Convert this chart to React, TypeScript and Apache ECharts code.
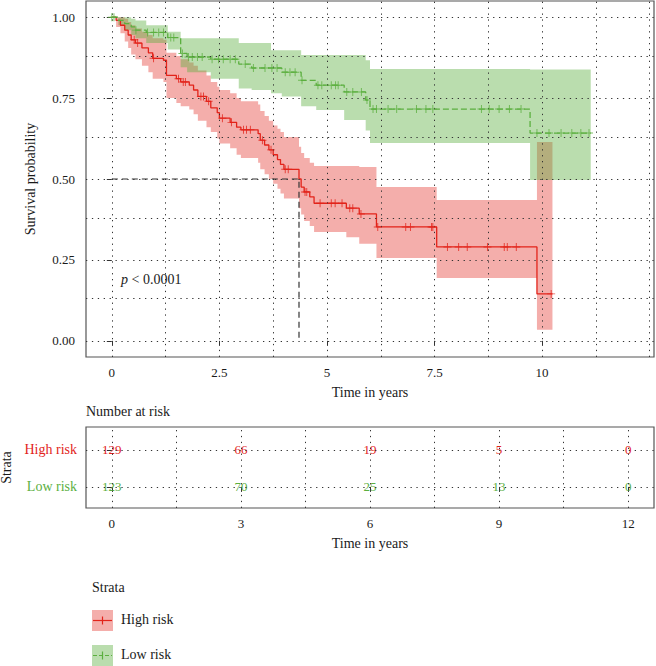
import React, { useEffect, useRef } from "react";
import * as echarts from "echarts";

// ---------- data ----------
const highT = [0, 0.1, 0.2, 0.3, 0.38, 0.45, 0.55, 0.7, 0.85, 0.95, 1.2, 1.27, 1.5, 1.6, 1.8, 1.9, 2.0, 2.2, 2.3, 2.45, 2.5, 2.75, 2.9, 3.0, 3.4, 3.45, 3.55, 3.65, 3.75, 3.85, 3.92, 4.0, 4.35, 4.4, 4.47, 4.6, 4.7, 5.45, 5.75, 6.15, 7.55, 9.88, 10.24];
const highS = [1, 0.99, 0.975, 0.96, 0.945, 0.93, 0.92, 0.905, 0.89, 0.873, 0.867, 0.82, 0.81, 0.8, 0.79, 0.775, 0.755, 0.74, 0.72, 0.705, 0.688, 0.675, 0.66, 0.652, 0.64, 0.62, 0.605, 0.59, 0.575, 0.56, 0.545, 0.53, 0.5, 0.475, 0.46, 0.445, 0.425, 0.41, 0.392, 0.352, 0.29, 0.145, 0.145];
const highUp = [1, 1, 1, 0.995, 0.985, 0.975, 0.965, 0.955, 0.945, 0.935, 0.93, 0.89, 0.88, 0.87, 0.86, 0.85, 0.835, 0.82, 0.8, 0.785, 0.775, 0.765, 0.75, 0.74, 0.73, 0.71, 0.695, 0.68, 0.665, 0.655, 0.645, 0.63, 0.6, 0.58, 0.565, 0.55, 0.54, 0.54, 0.537, 0.475, 0.435, 0.614, 0.614];
const highLo = [1, 0.97, 0.95, 0.925, 0.905, 0.885, 0.87, 0.85, 0.83, 0.81, 0.8, 0.75, 0.735, 0.725, 0.715, 0.7, 0.68, 0.66, 0.645, 0.625, 0.61, 0.595, 0.575, 0.565, 0.55, 0.53, 0.515, 0.5, 0.485, 0.47, 0.455, 0.44, 0.41, 0.39, 0.37, 0.355, 0.336, 0.32, 0.3, 0.256, 0.194, 0.034, 0.034];
const highCensorT = [0.52, 0.6, 0.97, 1.55, 1.66, 1.71, 2.07, 2.13, 2.25, 2.57, 2.78, 3.06, 3.13, 3.22, 3.5, 3.7, 4.03, 4.1, 4.49, 4.53, 4.84, 5.1, 5.19, 5.35, 5.53, 5.6, 5.79, 6.18, 6.83, 6.94, 7.43, 7.46, 7.8, 8.06, 8.26, 8.73, 9.12, 9.19, 9.4, 10.21];
const highCensorS = [0.93, 0.92, 0.873, 0.81, 0.8, 0.8, 0.755, 0.755, 0.74, 0.688, 0.675, 0.652, 0.652, 0.652, 0.62, 0.59, 0.53, 0.53, 0.46, 0.46, 0.425, 0.425, 0.425, 0.425, 0.41, 0.41, 0.392, 0.352, 0.352, 0.352, 0.352, 0.352, 0.29, 0.29, 0.29, 0.29, 0.29, 0.29, 0.29, 0.145];

const lowT = [0, 0.15, 0.3, 0.45, 0.55, 0.8, 1.3, 1.6, 1.75, 2.3, 2.95, 3.25, 3.7, 3.95, 4.4, 4.75, 5.4, 5.9, 6.0, 9.72, 11.13];
const lowS = [1, 0.99, 0.98, 0.97, 0.96, 0.953, 0.937, 0.888, 0.877, 0.87, 0.855, 0.843, 0.843, 0.83, 0.805, 0.79, 0.769, 0.744, 0.716, 0.642, 0.642];
const lowUp = [1, 1, 1, 0.995, 0.99, 0.975, 0.955, 0.935, 0.935, 0.935, 0.92, 0.92, 0.898, 0.898, 0.883, 0.883, 0.883, 0.867, 0.84, 0.838, 0.838];
const lowLo = [1, 0.975, 0.96, 0.945, 0.935, 0.92, 0.9, 0.845, 0.83, 0.81, 0.78, 0.775, 0.765, 0.755, 0.725, 0.713, 0.682, 0.65, 0.611, 0.497, 0.497];
const lowCensorT = [0, 0.05, 0.56, 0.83, 0.97, 1.09, 1.2, 1.37, 1.44, 1.64, 1.78, 1.87, 1.99, 2.1, 2.33, 2.48, 2.59, 2.75, 2.87, 3.1, 3.29, 3.56, 3.72, 3.84, 4.03, 4.14, 4.26, 4.42, 4.79, 4.88, 5.1, 5.2, 5.26, 5.46, 5.6, 5.8, 5.93, 6.07, 6.15, 6.42, 6.62, 7.08, 7.3, 7.46, 8.59, 8.77, 9.0, 9.24, 9.51, 9.88, 10.16, 10.44, 10.69, 10.9, 11.09];
const lowCensorS = [1, 1, 0.96, 0.953, 0.953, 0.953, 0.953, 0.937, 0.937, 0.888, 0.877, 0.877, 0.877, 0.877, 0.87, 0.87, 0.87, 0.87, 0.87, 0.855, 0.843, 0.843, 0.843, 0.843, 0.83, 0.83, 0.83, 0.805, 0.79, 0.79, 0.79, 0.79, 0.79, 0.769, 0.769, 0.769, 0.744, 0.716, 0.716, 0.716, 0.716, 0.716, 0.716, 0.716, 0.716, 0.716, 0.716, 0.716, 0.716, 0.642, 0.642, 0.642, 0.642, 0.642, 0.642];

const medianTime = 4.35;
const medianSurv = 0.5;

const mainXTicks = [0, 2.5, 5, 7.5, 10];
const mainYTicks = [0, 0.25, 0.5, 0.75, 1];
const mainXGrid = [0, 1.25, 2.5, 3.75, 5, 6.25, 7.5, 8.75, 10, 11.25, 12.5];
const mainYGrid = [0, 0.125, 0.25, 0.375, 0.5, 0.625, 0.75, 0.875, 1];

const riskTimes = [0, 3, 6, 9, 12];
const riskHigh = [129, 66, 19, 5, 0];
const riskLow = [123, 70, 25, 13, 0];
const riskXGrid = [0, 1.5, 3, 4.5, 6, 7.5, 9, 10.5, 12];
const strataNames = ["High risk", "Low risk"];

// ---------- styles ----------
const RED = "#E2231A";
const GREEN = "#5BAF3F";
const RED_FILL = "rgba(226,35,26,0.37)";
const GREEN_FILL = "rgba(91,175,63,0.42)";
const FONT = "Liberation Serif";
const TXT = "#1a1a1a";
const PLUS = "path://M4.4,0H5.6V4.4H10V5.6H5.6V10H4.4V5.6H0V4.4H4.4Z";
const DOTS = { type: [1.3, 4.6] as any, color: "#333", width: 1 };

function band(T: number[], up: number[], lo: number[], fill: string) {
  return {
    type: "custom",
    xAxisIndex: 0,
    yAxisIndex: 0,
    z: 2,
    silent: true,
    data: T.map((t, i) => [t, up[i], lo[i]]),
    renderItem: (params: any, api: any) => {
      if (params.dataIndex !== 0) return null;
      const pts: number[][] = [];
      for (let i = 0; i < T.length - 1; i++) {
        pts.push(api.coord([T[i], up[i]]));
        pts.push(api.coord([T[i + 1], up[i]]));
      }
      for (let i = T.length - 2; i >= 0; i--) {
        pts.push(api.coord([T[i + 1], lo[i]]));
        pts.push(api.coord([T[i], lo[i]]));
      }
      return { type: "polygon", shape: { points: pts }, style: { fill } };
    },
  };
}

function riskText(vals: number[], row: number, color: string) {
  return {
    type: "custom",
    xAxisIndex: 1,
    yAxisIndex: 1,
    z: 4,
    silent: true,
    data: riskTimes.map((t, i) => [t, row, vals[i]]),
    renderItem: (_p: any, api: any) => {
      const c = api.coord([api.value(0), api.value(1)]);
      return {
        type: "text",
        x: c[0],
        y: c[1],
        style: {
          text: String(api.value(2)),
          fill: color,
          font: `13px "${FONT}"`,
          align: "center",
          verticalAlign: "middle",
          textAlign: "center",
          textVerticalAlign: "middle",
        },
      };
    },
  };
}

const axisText = { fontFamily: FONT, fontSize: 13, color: TXT };
const nameText = { fontFamily: FONT, fontSize: 14, color: TXT };

const option: any = {
  animation: false,
  backgroundColor: "#fff",
  textStyle: { fontFamily: FONT },
  grid: [
    { left: 86, top: 1, width: 568, height: 356, show: true, borderColor: "#555", borderWidth: 1.2, backgroundColor: "#fff", outerBoundsMode: "none", containLabel: false },
    { left: 86, top: 427, width: 568, height: 81, show: true, borderColor: "#555", borderWidth: 1.2, backgroundColor: "#fff", outerBoundsMode: "none", containLabel: false },
  ],
  xAxis: [
    {
      type: "value", gridIndex: 0, min: -0.6, max: 12.6,
      axisLine: { show: false },
      axisTick: { show: true, customValues: mainXTicks, length: 5, lineStyle: { color: "#333" } },
      axisLabel: { customValues: mainXTicks, margin: 9, ...axisText, formatter: (v: number) => String(v) },
      splitLine: { show: false },
      name: "Time in years", nameLocation: "middle", nameGap: 28, nameTextStyle: nameText,
    },
    {
      type: "value", gridIndex: 1, min: -0.6, max: 12.6,
      axisLine: { show: false },
      axisTick: { show: true, customValues: riskTimes, length: 5, lineStyle: { color: "#333" } },
      axisLabel: { customValues: riskTimes, margin: 9, ...axisText, formatter: (v: number) => String(v) },
      splitLine: { show: false },
      name: "Time in years", nameLocation: "middle", nameGap: 28, nameTextStyle: nameText,
    },
  ],
  yAxis: [
    {
      type: "value", gridIndex: 0, min: -0.05, max: 1.05,
      axisLine: { show: false },
      axisTick: { show: true, customValues: mainYTicks, length: 5, lineStyle: { color: "#333" } },
      axisLabel: { customValues: mainYTicks, margin: 11, ...axisText, formatter: (v: number) => v.toFixed(2) },
      splitLine: { show: false },
      name: "Survival probability", nameLocation: "middle", nameGap: 49, nameTextStyle: nameText,
    },
    {
      type: "value", gridIndex: 1, min: -0.57, max: 1.62,
      axisLine: { show: false },
      axisTick: { show: true, customValues: [0, 1], length: 5, lineStyle: { color: "#333" } },
      axisLabel: {
        customValues: [0, 1], margin: 9, fontFamily: FONT, fontSize: 14,
        formatter: (v: number) => (v === 1 ? `{h|${strataNames[0]}}` : `{l|${strataNames[1]}}`),
        rich: {
          h: { color: RED, fontFamily: FONT, fontSize: 14 },
          l: { color: GREEN, fontFamily: FONT, fontSize: 14 },
        },
      },
      splitLine: { show: false },
      name: "Strata", nameLocation: "middle", nameGap: 71, nameTextStyle: nameText,
    },
  ],
  series: [
    {
      type: "line", xAxisIndex: 0, yAxisIndex: 0, z: 1, silent: true, showSymbol: false,
      data: [[-5, -5]], lineStyle: { opacity: 0 },
      markLine: {
        silent: true, symbol: "none", label: { show: false }, lineStyle: DOTS,
        data: [...mainXGrid.map((v) => ({ xAxis: v })), ...mainYGrid.map((v) => ({ yAxis: v }))],
      },
    },
    {
      type: "line", xAxisIndex: 1, yAxisIndex: 1, z: 1, silent: true, showSymbol: false,
      data: [[-5, -5]], lineStyle: { opacity: 0 },
      markLine: {
        silent: true, symbol: "none", label: { show: false }, lineStyle: DOTS,
        data: [...riskXGrid.map((v) => ({ xAxis: v })), { yAxis: 0 }, { yAxis: 1 }],
      },
    },
    band(highT, highUp, highLo, RED_FILL),
    band(lowT, lowUp, lowLo, GREEN_FILL),
    {
      type: "line", xAxisIndex: 0, yAxisIndex: 0, z: 3, silent: true, showSymbol: false,
      data: [[0, medianSurv], [medianTime, medianSurv], [medianTime, 0]],
      lineStyle: { color: "#333", width: 1.2, type: [6, 4] },
    },
    {
      name: strataNames[0], type: "line", step: "end", xAxisIndex: 0, yAxisIndex: 0, z: 4, silent: true, showSymbol: false,
      data: highT.map((t, i) => [t, highS[i]]),
      lineStyle: { color: RED, width: 1.3 },
    },
    {
      name: strataNames[1], type: "line", step: "end", xAxisIndex: 0, yAxisIndex: 0, z: 4, silent: true, showSymbol: false,
      data: lowT.map((t, i) => [t, lowS[i]]),
      lineStyle: { color: GREEN, width: 1.3, type: [6, 3] },
    },
    {
      type: "scatter", xAxisIndex: 0, yAxisIndex: 0, z: 5, silent: true,
      symbol: PLUS, symbolSize: 8,
      data: highCensorT.map((t, i) => [t, highCensorS[i]]),
      itemStyle: { color: RED },
    },
    {
      type: "scatter", xAxisIndex: 0, yAxisIndex: 0, z: 5, silent: true,
      symbol: PLUS, symbolSize: 8,
      data: lowCensorT.map((t, i) => [t, lowCensorS[i]]),
      itemStyle: { color: GREEN },
    },
    riskText(riskHigh, 1, RED),
    riskText(riskLow, 0, GREEN),
  ],
  graphic: [
    {
      type: "text", left: 121, top: 272, silent: true,
      style: {
        text: "{i|p} < 0.0001",
        font: `14px "${FONT}"`,
        fill: TXT,
        rich: { i: { fontStyle: "italic", fontFamily: FONT, fontSize: 14, fill: TXT } },
      },
    },
    {
      type: "text", left: 86, top: 404, silent: true,
      style: { text: "Number at risk", font: `14px "${FONT}"`, fill: TXT },
    },
    {
      type: "text", left: 92, top: 580, silent: true,
      style: { text: "Strata", font: `14px "${FONT}"`, fill: TXT },
    },
    { type: "rect", shape: { x: 92, y: 610, width: 21, height: 21 }, style: { fill: RED_FILL }, silent: true },
    { type: "line", shape: { x1: 93, y1: 620.5, x2: 112, y2: 620.5 }, style: { stroke: RED, lineWidth: 1.2 }, silent: true },
    { type: "line", shape: { x1: 102.5, y1: 616.5, x2: 102.5, y2: 624.5 }, style: { stroke: RED, lineWidth: 1.2 }, silent: true },
    {
      type: "text", left: 121, top: 612, silent: true,
      style: { text: strataNames[0], font: `14px "${FONT}"`, fill: TXT },
    },
    { type: "rect", shape: { x: 92, y: 645, width: 21, height: 21 }, style: { fill: GREEN_FILL }, silent: true },
    { type: "line", shape: { x1: 93, y1: 655.5, x2: 112, y2: 655.5 }, style: { stroke: GREEN, lineWidth: 1.2, lineDash: [4, 2] }, silent: true },
    { type: "line", shape: { x1: 102.5, y1: 651.5, x2: 102.5, y2: 659.5 }, style: { stroke: GREEN, lineWidth: 1.2 }, silent: true },
    {
      type: "text", left: 121, top: 647, silent: true,
      style: { text: strataNames[1], font: `14px "${FONT}"`, fill: TXT },
    },
  ],
};

export default function App() {
  const ref = useRef<HTMLDivElement>(null);
  useEffect(() => {
    document.body.style.margin = "0";
    const chart = echarts.init(ref.current as HTMLDivElement, null, { renderer: "svg" });
    chart.setOption(option);
    return () => chart.dispose();
  }, []);
  return <div ref={ref} style={{ position: "absolute", left: 0, top: 0, width: 656, height: 666 }} />;
}
